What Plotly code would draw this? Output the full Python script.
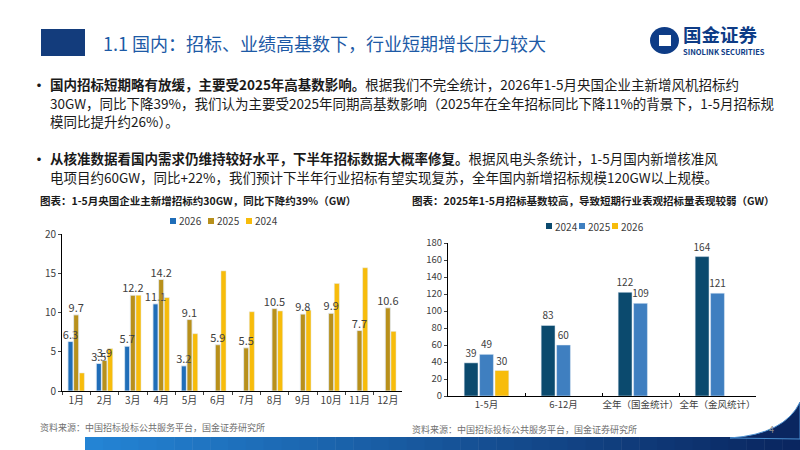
import plotly.graph_objects as go

# ---- data ----
months = ["1月", "2月", "3月", "4月", "5月", "6月", "7月", "8月", "9月", "10月", "11月", "12月"]
bid_2026 = [6.3, 3.5, 5.7, 11.1, 3.2, None, None, None, None, None, None, None]
bid_2025 = [9.7, 3.9, 12.2, 14.2, 9.1, 5.9, 5.5, 10.5, 9.8, 9.9, 7.7, 10.6]
bid_2024 = [2.3, 5.4, 12.2, 11.9, 7.3, 15.3, 10.1, 10.2, 10.3, 13.7, 15.7, 7.6]

periods = ["1-5月", "6-12月", "全年（国金统计）", "全年（金风统计）"]
base_2024 = [39, 83, 122, 164]
base_2025 = [49, 60, 109, 121]
base_2026 = [30, None, None, None]

FONT = "Noto Sans CJK SC"
W, H = 800, 450


def px(x):
    return x / W


def py(y):
    return 1 - y / H


def lbl(vals):
    return ["" if v is None else f"{v:g}" for v in vals]


fig = go.Figure()

left_series = [
    ("2026", bid_2026, "#1F6DB8", True),
    ("2025", bid_2025, "#B8901B", True),
    ("2024", bid_2024, "#F7BC0B", False),
]
right_series = [
    ("2024", base_2024, "#0B4A6E"),
    ("2025", base_2025, "#3F7FC0"),
    ("2026", base_2026, "#F7BC0B"),
]

# left chart: monthly bids (bars first, labels as see-through bars on top so
# neighbouring bars don't hide them)
for i, (name, vals, color, _) in enumerate(left_series):
    fig.add_trace(go.Bar(x=months, y=vals, name=name, marker_color=color,
                         offsetgroup=f"L{i}", xaxis="x", yaxis="y"))
for i, (name, vals, color, show_text) in enumerate(left_series):
    if not show_text:
        continue
    fig.add_trace(go.Bar(
        x=months, y=vals, name=name, marker_color="rgba(0,0,0,0)", offsetgroup=f"L{i}",
        text=lbl(vals), textposition="outside", cliponaxis=False, constraintext="none",
        textfont=dict(size=11, color="#404040", family=FONT),
        xaxis="x", yaxis="y", hoverinfo="skip",
    ))

# right chart: base comparison
for i, (name, vals, color) in enumerate(right_series):
    fig.add_trace(go.Bar(
        x=periods, y=vals, name=name, marker_color=color, offsetgroup=f"R{i}",
        text=lbl(vals), textposition="outside", cliponaxis=False, constraintext="none",
        textfont=dict(size=10, color="#404040", family=FONT),
        xaxis="x2", yaxis="y2",
    ))

axis_font = dict(size=10, color="#404040", family=FONT)

fig.update_layout(
    width=W, height=H,
    margin=dict(l=0, r=0, t=0, b=0, pad=0, autoexpand=False),
    paper_bgcolor="white", plot_bgcolor="white",
    barmode="group", bargap=0.4, bargroupgap=0.1,
    font=dict(family=FONT),
    showlegend=False,
    xaxis=dict(domain=[px(62), px(402)], showline=True, linecolor="black", linewidth=1,
               ticks="outside", tickson="boundaries", ticklen=3, tickcolor="#404040",
               tickfont=axis_font, tickangle=0, showgrid=False, automargin=False),
    yaxis=dict(domain=[py(391), py(234)], range=[0, 20], dtick=5, showline=True,
               linecolor="black", linewidth=1, ticks="outside", ticklen=3,
               tickfont=axis_font, showgrid=False, zeroline=False, automargin=False),
    xaxis2=dict(domain=[px(448), px(756)], anchor="y2", showline=True, linecolor="black",
                linewidth=1, ticks="inside", tickson="boundaries", ticklen=3,
                tickcolor="black", tickfont=dict(size=9.5, color="#404040", family=FONT),
                tickangle=0, showgrid=False, automargin=False),
    yaxis2=dict(domain=[py(396), py(243)], anchor="x2", range=[0, 180], dtick=20,
                showline=True, linecolor="black", linewidth=1, ticks="outside",
                ticklen=3, tickfont=dict(size=9.5, color="#404040", family=FONT),
                showgrid=False, zeroline=False, automargin=False),
)

shapes = []
ann = []


def add_text(x, y, text, size, color="#1A1A1A", anchor="left"):
    ann.append(dict(xref="paper", yref="paper", x=px(x), y=py(y), text=text,
                    showarrow=False, xanchor=anchor, yanchor="middle",
                    font=dict(size=size, color=color, family=FONT)))


def box(x0, y0, x1, y1, color):
    shapes.append(dict(type="rect", xref="paper", yref="paper", x0=px(x0), x1=px(x1),
                       y0=py(y1), y1=py(y0), fillcolor=color, line_width=0))


# header block
box(41, 29, 85, 56, "#133C7C")
# logo
shapes.append(dict(type="circle", xref="paper", yref="paper", x0=px(650), x1=px(679),
                   y0=py(54), y1=py(27), fillcolor="#0E3C86", line_width=0))
box(659, 35, 671, 46, "white")

# bottom band, faked gradient
n = 40
c0, c1 = (0x24, 0x84, 0xD4), (0x0A, 0x26, 0x60)
x_start, x_end = 85, 800
for i in range(n):
    t = i / (n - 1)
    col = "rgb(%d,%d,%d)" % tuple(int(a + (b - a) * t) for a, b in zip(c0, c1))
    xa = x_start + (x_end - x_start) * i / n
    xb = x_start + (x_end - x_start) * (i + 1) / n + 0.5
    box(xa, 437, xb, 450, col)
# swoosh at bottom right
shapes.append(dict(type="path", xref="paper", yref="paper",
                   path=f"M {px(730)},{py(438)} Q {px(785)},{py(434)} {px(800)},{py(402)} "
                        f"L {px(800)},{py(439)} Z",
                   fillcolor="#0A2660", line=dict(color="#4A8FD0", width=1)))

# legends drawn by hand (plotly legend spacing is much wider)
for i, (name, _, color, _) in enumerate(left_series):
    x0 = 170 + 38 * i
    box(x0, 218, x0 + 6, 224, color)
    add_text(x0 + 7, 221, name, 10, "#404040")
for i, (name, _, color) in enumerate(right_series):
    x0 = 546 + 33 * i
    box(x0, 223, x0 + 6, 229, color)
    add_text(x0 + 7, 226, name, 10, "#404040")

fig.update_layout(shapes=shapes)

add_text(101, 43, "1.1 国内：招标、业绩高基数下，行业短期增长压力较大", 18, "#1D5AA6")
add_text(681, 34, "<b>国金证券</b>", 18.5, "#0E3C86")
add_text(681, 51.5, "<b>SINOLINK SECURITIES</b>", 7.5, "#0E3C86")

add_text(30, 84, "<b>•</b>", 14)
add_text(30, 158, "<b>•</b>", 14)
body = [
    (84, "<b>国内招标短期略有放缓，主要受2025年高基数影响。</b>根据我们不完全统计，2026年1-5月央国企业主新增风机招标约"),
    (103, "30GW，同比下降39%，我们认为主要受2025年同期高基数影响（2025年在全年招标同比下降11%的背景下，1-5月招标规"),
    (121, "模同比提升约26%）。"),
    (158, "<b>从核准数据看国内需求仍维持较好水平，下半年招标数据大概率修复。</b>根据风电头条统计，1-5月国内新增核准风"),
    (177, "电项目约60GW，同比+22%，我们预计下半年行业招标有望实现复苏，全年国内新增招标规模120GW以上规模。"),
]
for y, t in body:
    add_text(48, y, t, 13.5)

add_text(38, 200, "<b>图表：1-5月央国企业主新增招标约30GW，同比下降约39%（GW）</b>", 10.5)
add_text(410, 200, "<b>图表：2025年1-5月招标基数较高，导致短期行业表观招标量表现较弱（GW）</b>", 10.5)
add_text(38, 427, "资料来源：中国招标投标公共服务平台，国金证券研究所", 9, "#707070")
add_text(410, 429, "资料来源：中国招标投标公共服务平台，国金证券研究所", 9, "#707070")
add_text(767, 429, "4", 9, "#909090")

fig.update_layout(annotations=ann)

# drop the browser's default 8px body margin so the slide sits at the page corner
fig.write_html("out.html", config={"displayModeBar": False},
               post_script="document.body.style.margin='0';")
